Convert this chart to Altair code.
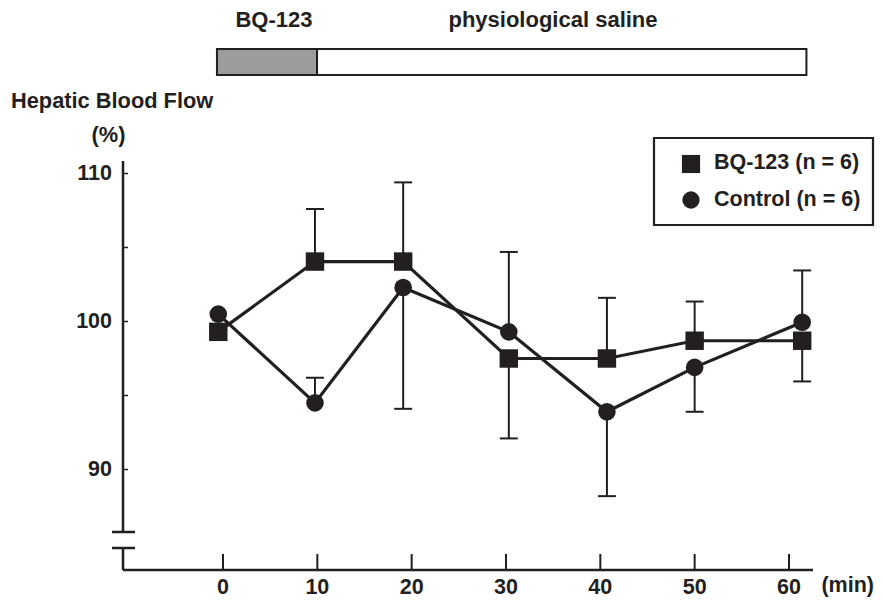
import altair as alt
import pandas as pd

# ---------------- data ----------------
series_names = ["BQ-123", "Control"]
minutes = [0, 10, 20, 30, 40, 50, 60]                      # nominal tick labels
time_read = [-0.5, 9.75, 19.1, 30.3, 40.7, 50.0, 61.4]     # where the points sit (min)
bq_mean = [99.3, 104.05, 104.05, 97.5, 97.5, 98.7, 98.7]
bq_bar_end = [None, 107.6, 109.4, 92.1, 101.6, 101.35, 95.95]
ctl_mean = [100.5, 94.5, 102.3, 99.3, 93.9, 96.9, 99.95]
ctl_bar_end = [None, 96.2, 94.1, 104.7, 88.2, 93.9, 103.45]
y_major = [110, 100, 90]
y_minor = [110, 105, 100, 95, 90]
legend_labels = ["BQ-123 (n = 6)", "Control (n = 6)"]
phase_labels = ["BQ-123", "physiological saline"]
phase_start = [-0.64, 9.97]
phase_end = [9.97, 61.85]

# ---------------- layout helpers ----------------
W, H = 867, 591
PX_MIN, X0 = 9.433, 223.0      # page px per minute, page x of minute 0
PX_UNIT, Y100 = 14.8, 321.5    # page px per %, page y of 100 %
FS = 21.5


def mx(px):
    return (px - X0) / PX_MIN


def vy(py):
    return 100 + (Y100 - py) / PX_UNIT


INK = "#231f20"
FONT = "Liberation Sans"
xs = alt.Scale(domain=[mx(8), mx(8 + W)], nice=False, zero=False)
ys = alt.Scale(domain=[vy(8 + H), vy(8)], nice=False, zero=False)


def X(f="x"):
    return alt.X(f + ":Q", scale=xs, axis=None)


def Y(f="y"):
    return alt.Y(f + ":Q", scale=ys, axis=None)


def rules(df, width=2.5):
    return alt.Chart(df).mark_rule(color=INK, strokeWidth=width).encode(
        x=X(), x2="x2:Q", y=Y(), y2="y2:Q")


def texts(df, align="center", size=FS):
    return alt.Chart(df).mark_text(
        font=FONT, fontWeight="bold", fontSize=size, color=INK,
        align=align, baseline="middle").encode(x=X(), y=Y(), text="t:N")


# ---------------- data table ----------------
rows = []
for s, means, ends in [(series_names[0], bq_mean, bq_bar_end),
                       (series_names[1], ctl_mean, ctl_bar_end)]:
    for t, m, e in zip(time_read, means, ends):
        rows.append({"series": s, "x": t, "y": m, "end": e})
data = pd.DataFrame(rows)
err = data.dropna(subset=["end"])

# ---------------- top protocol bar ----------------
bar_df = pd.DataFrame({
    "x": phase_start, "x2": phase_end,
    "y": [vy(75)] * 2, "y2": [vy(49)] * 2,
    "fill": ["#9c9c9c", "#ffffff"]})
bar = alt.Chart(bar_df).mark_rect(stroke=INK, strokeWidth=2).encode(
    x=X(), x2="x2:Q", y=Y(), y2="y2:Q", fill=alt.Fill("fill:N", scale=None))
phase_txt = texts(pd.DataFrame({"x": [mx(274), mx(553)], "y": [vy(20)] * 2,
                                "t": phase_labels}), size=22)

# ---------------- axis titles ----------------
ytitle1 = texts(pd.DataFrame({"x": [mx(11)], "y": [vy(101)],
                              "t": ["Hepatic Blood Flow"]}), align="left", size=21.8)
ytitle2 = texts(pd.DataFrame({"x": [mx(108.5)], "y": [vy(135)], "t": ["(%)"]}), size=21.8)

# ---------------- hand-drawn axes with break ----------------
ax_x = mx(123)
axis_df = pd.DataFrame([
    {"x": ax_x, "x2": ax_x, "y": vy(161), "y2": vy(532)},      # upper y axis
    {"x": mx(112), "x2": mx(135), "y": vy(532), "y2": vy(532)},  # break mark
    {"x": mx(112), "x2": mx(135), "y": vy(548), "y2": vy(548)},  # break mark
    {"x": ax_x, "x2": ax_x, "y": vy(548), "y2": vy(570)},      # lower y stub
    {"x": ax_x, "x2": mx(813), "y": vy(570), "y2": vy(570)},   # x axis
])
axes = rules(axis_df, 2.5)

ytick_df = pd.DataFrame({"x": [ax_x] * len(y_minor), "x2": [mx(128)] * len(y_minor),
                         "y": y_minor, "y2": y_minor})
yticks = rules(ytick_df, 1.5)
ylab = texts(pd.DataFrame({"x": [mx(112)] * 3, "y": y_major,
                           "t": [str(v) for v in y_major]}), align="right")

xtick_df = pd.DataFrame({"x": minutes, "x2": minutes,
                         "y": [vy(570)] * len(minutes), "y2": [vy(554)] * len(minutes)})
xticks = rules(xtick_df, 2)
xlab = texts(pd.DataFrame({"x": minutes, "y": [vy(588)] * len(minutes),
                           "t": [str(m) for m in minutes]}))
xunit = texts(pd.DataFrame({"x": [mx(874)], "y": [vy(586)], "t": ["(min)"]}),
              align="right")

# ---------------- error bars ----------------
ebar = alt.Chart(err).mark_rule(color=INK, strokeWidth=2).encode(
    x=X(), y=Y(), y2="end:Q")
ecap = alt.Chart(err).transform_calculate(
    xa="datum.x - 0.95", xb="datum.x + 0.95").mark_rule(
    color=INK, strokeWidth=2).encode(x=X("xa"), x2="xb:Q", y=Y("end"))

# ---------------- lines & markers ----------------
lines = alt.Chart(data).mark_line(color=INK, strokeWidth=3.2).encode(
    x=X(), y=Y(), detail="series:N")
sq = alt.Chart(data[data.series == series_names[0]]).mark_point(
    shape="square", filled=True, size=340, color=INK, opacity=1).encode(x=X(), y=Y())
ci = alt.Chart(data[data.series == series_names[1]]).mark_point(
    shape="circle", filled=True, size=310, color=INK, opacity=1).encode(x=X(), y=Y())

# ---------------- legend box ----------------
leg_box = alt.Chart(pd.DataFrame({"x": [mx(654)], "x2": [mx(873)],
                                  "y": [vy(225)], "y2": [vy(138)]})).mark_rect(
    fill="white", stroke=INK, strokeWidth=2.2).encode(x=X(), x2="x2:Q", y=Y(), y2="y2:Q")
leg_sq = alt.Chart(pd.DataFrame({"x": [mx(691)], "y": [vy(164)]})).mark_point(
    shape="square", filled=True, size=330, color=INK, opacity=1).encode(x=X(), y=Y())
leg_ci = alt.Chart(pd.DataFrame({"x": [mx(691)], "y": [vy(200)]})).mark_point(
    shape="circle", filled=True, size=300, color=INK, opacity=1).encode(x=X(), y=Y())
leg_txt = texts(pd.DataFrame({"x": [mx(714)] * 2, "y": [vy(163), vy(200)],
                              "t": legend_labels}), align="left")

chart = alt.layer(
    bar, phase_txt, ytitle1, ytitle2, axes, yticks, ylab, xticks, xlab, xunit,
    ebar, ecap, lines, sq, ci, leg_box, leg_sq, leg_ci, leg_txt
).properties(
    width=W, height=H, padding=0,
    autosize=alt.AutoSizeParams(type="none"),
    background="white"
).configure_view(stroke=None)

chart.save("out.html", embed_options={"renderer": "svg", "actions": False})
